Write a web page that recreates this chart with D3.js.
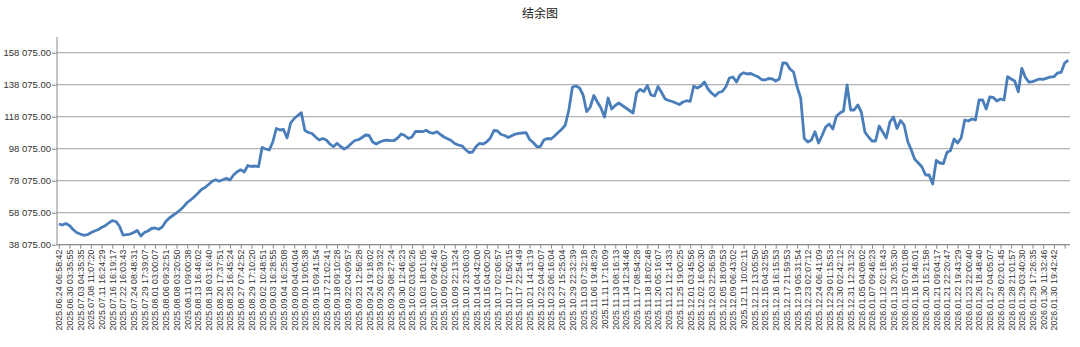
<!DOCTYPE html>
<html>
<head>
<meta charset="utf-8">
<script src="https://cdn.jsdelivr.net/npm/d3@7"></script>
<style>
  body { margin: 0; background: #fff; }
  text { font-family: "Liberation Sans", Arial, sans-serif; }
</style>
</head>
<body>
<div id="chart"></div>
<script>
// one label for every labelStep points
const labels = [
  "2025.06.24 06:58:42", "2025.06.30 03:35:55", "2025.07.03 04:35:35", "2025.07.08 11:07:20",
  "2025.07.11 16:24:29", "2025.07.16 16:19:17", "2025.07.22 16:03:43", "2025.07.24 08:48:31",
  "2025.07.29 17:39:07", "2025.08.01 03:00:07", "2025.08.06 09:32:51", "2025.08.08 03:20:50",
  "2025.08.11 09:00:38", "2025.08.13 16:46:02", "2025.08.18 03:16:40", "2025.08.20 17:37:51",
  "2025.08.25 16:45:24", "2025.08.27 07:42:52", "2025.08.29 17:10:20", "2025.09.02 10:48:51",
  "2025.09.03 16:28:55", "2025.09.04 16:25:08", "2025.09.09 04:04:04", "2025.09.10 19:05:38",
  "2025.09.15 09:41:54", "2025.09.17 21:02:41", "2025.09.18 09:10:28", "2025.09.22 04:09:57",
  "2025.09.23 12:56:28", "2025.09.24 19:18:02", "2025.09.26 02:39:32", "2025.09.29 08:27:24",
  "2025.09.30 12:46:23", "2025.10.02 03:06:26", "2025.10.03 18:01:05", "2025.10.07 09:42:46",
  "2025.10.09 02:06:07", "2025.10.09 22:13:24", "2025.10.10 23:06:03", "2025.10.14 04:42:00",
  "2025.10.15 04:00:20", "2025.10.17 02:06:57", "2025.10.17 10:50:15", "2025.10.17 22:54:49",
  "2025.10.21 14:13:19", "2025.10.22 04:40:07", "2025.10.23 06:16:04", "2025.10.27 15:25:04",
  "2025.10.29 22:32:39", "2025.11.03 07:32:18", "2025.11.06 19:48:29", "2025.11.11 17:16:09",
  "2025.11.13 08:16:13", "2025.11.14 12:34:48", "2025.11.17 08:54:28", "2025.11.18 18:02:48",
  "2025.11.20 05:16:07", "2025.11.21 12:14:33", "2025.11.25 19:00:25", "2025.12.01 03:45:56",
  "2025.12.02 16:00:30", "2025.12.03 22:56:59", "2025.12.05 18:09:53", "2025.12.09 06:43:02",
  "2025.12.11 10:02:11", "2025.12.12 13:05:50", "2025.12.15 04:32:55", "2025.12.16 16:15:53",
  "2025.12.17 21:59:53", "2025.12.19 05:31:54", "2025.12.23 02:07:12", "2025.12.24 06:41:09",
  "2025.12.29 01:15:53", "2025.12.30 02:42:12", "2025.12.31 12:31:32", "2026.01.05 04:08:02",
  "2026.01.07 09:46:23", "2026.01.12 02:18:43", "2026.01.13 20:35:30", "2026.01.15 07:01:08",
  "2026.01.16 19:46:01", "2026.01.20 15:21:58", "2026.01.21 09:04:17", "2026.01.21 22:20:47",
  "2026.01.22 19:43:29", "2026.01.23 22:00:40", "2026.01.26 18:48:40", "2026.01.27 04:05:07",
  "2026.01.28 02:01:45", "2026.01.28 21:01:57", "2026.01.29 03:40:30", "2026.01.29 17:26:35",
  "2026.01.30 11:32:46", "2026.01.30 19:42:42"
];
const labelStep = 3;

const balance = [
  51010, 50390, 51330, 50080, 47580, 45700, 44760, 43950, 44330, 45580,
  46640, 47450, 48830, 49950, 51640, 53080, 52580, 49760, 44140, 44330,
  44760, 45700, 46950, 43510, 45700, 46640, 48200, 48510, 47700, 49140,
  52580, 54760, 56330, 58000, 59760, 61830, 64450, 66140, 68000, 70200,
  72580, 73830, 75700, 77760, 78700, 77760, 78700, 79640, 78510, 81640,
  83700, 84890, 83500, 87580, 86950, 87260, 86830, 98830, 97890, 97260,
  102260, 110700, 109760, 110080, 104760, 114140, 116950, 118830, 120580, 109450,
  108200, 107580, 105390, 103500, 104450, 103500, 101010, 99330, 101450, 99450,
  97890, 99140, 101330, 103200, 103700, 105080, 106640, 106330, 102260, 101010,
  102260, 103080, 103510, 103080, 103200, 104760, 107260, 106330, 104450, 105390,
  108830, 108950, 108700, 109580, 108200, 107700, 108700, 106950, 105390, 104330,
  103200, 101330, 100390, 99890, 97580, 95700, 96010, 99450, 101450, 101010,
  102450, 104760, 109450, 109140, 106950, 106330, 105080, 106200, 107260, 107700,
  107890, 108080, 103830, 101950, 99450, 99330, 103510, 104450, 104140, 106010,
  108200, 110200, 112890, 122260, 136640, 137260, 136010, 131640, 121200, 124140,
  131330, 127260, 123510, 117890, 129760, 122890, 125080, 126640, 125080, 123510,
  121950, 120390, 133010, 135200, 133700, 137580, 131640, 131010, 136950, 133200,
  129140, 128200, 127580, 126640, 125700, 127260, 128080, 127580, 137140, 136010,
  137260, 139760, 135390, 132890, 131010, 133200, 133830, 136640, 142260, 142890,
  139760, 144140, 145580, 144760, 145080, 144010, 143080, 141330, 141010, 141950,
  141760, 140390, 141640, 151760, 151510, 147890, 146010, 136640, 129760, 104450,
  102260, 103510, 108700, 101640, 106330, 111640, 113510, 110390, 118300, 120390,
  121640, 137890, 122260, 122260, 125390, 121010, 108510, 105390, 102890, 102890,
  112260, 108510, 104760, 114760, 117890, 110700, 115700, 112890, 102580, 97260,
  91330, 89140, 86640, 81640, 81640, 76010, 90700, 89140, 88830, 95700,
  96950, 104140, 101640, 104890, 116010, 115390, 116640, 116010, 128510, 128510,
  122890, 130390, 130080, 127890, 129140, 128510, 143080, 141640, 140390, 133640,
  148330, 142580, 139640, 140010, 140890, 141640, 141450, 142140, 142890, 143080,
  145390, 145760, 151640, 153390
];

const yTicks = [38075, 58075, 78075, 98075, 118075, 138075, 158075];

const width = 1080, height = 347;
const plotLeft = 57, plotRight = 1070, plotTop = 52.7, plotBottom = 244.7, axisTop = 37;

const svg = d3.select("#chart").append("svg")
  .attr("width", width)
  .attr("height", height);

const x = d3.scalePoint()
  .domain(d3.range(balance.length))
  .range([plotLeft, plotRight])
  .padding(0.5);

const y = d3.scaleLinear()
  .domain([yTicks[0], yTicks[yTicks.length - 1]])
  .range([plotBottom, plotTop]);

const fmt = d3.formatLocale({ decimal: ".", thousands: " ", grouping: [3], currency: ["", ""] }).format(",.2f");

svg.append("text")
  .attr("x", width / 2)
  .attr("y", 18)
  .attr("text-anchor", "middle")
  .style("font-family", "'Noto Sans CJK SC', sans-serif")
  .style("font-size", "12px")
  .attr("fill", "#222")
  .text("结余图");

// gridlines
svg.append("g")
  .selectAll("line")
  .data(yTicks)
  .enter()
  .append("line")
  .attr("x1", plotLeft)
  .attr("x2", plotRight)
  .attr("y1", d => y(d))
  .attr("y2", d => y(d))
  .attr("stroke", "#a0a0a0")
  .attr("stroke-width", 1);

// y axis
const yAxis = svg.append("g")
  .attr("transform", "translate(" + plotLeft + ",0)")
  .call(d3.axisLeft(y).tickValues(yTicks).tickSize(5).tickPadding(1).tickFormat(fmt));
yAxis.select(".domain").remove();
yAxis.selectAll(".tick line").attr("stroke", "#888");
yAxis.selectAll("text")
  .attr("fill", "#333")
  .style("font-size", "9.5px");
yAxis.append("line")
  .attr("x1", 0).attr("x2", 0)
  .attr("y1", axisTop).attr("y2", plotBottom)
  .attr("stroke", "#888");

// x axis
const xAxis = svg.append("g")
  .attr("transform", "translate(0," + plotBottom + ")")
  .call(d3.axisBottom(x)
    .tickValues(d3.range(0, balance.length, labelStep))
    .tickSize(4)
    .tickFormat(i => labels[i / labelStep]));
xAxis.select(".domain")
  .attr("d", "M" + plotLeft + ",0H" + plotRight)
  .attr("stroke", "#888");
xAxis.selectAll(".tick line").attr("stroke", "#888");
xAxis.selectAll("text")
  .attr("fill", "#333")
  .style("font-size", "8.8px")
  .attr("text-anchor", "end")
  .attr("transform", "rotate(-90)")
  .attr("x", -5)
  .attr("y", 0)
  .attr("dy", "0.33em");

// balance line
const line = d3.line()
  .x((d, i) => x(i))
  .y(d => y(d));

svg.append("path")
  .datum(balance)
  .attr("d", line)
  .attr("fill", "none")
  .attr("stroke", "#4a7ebb")
  .attr("stroke-width", 2.8)
  .attr("stroke-linejoin", "round");
</script>
</body>
</html>
